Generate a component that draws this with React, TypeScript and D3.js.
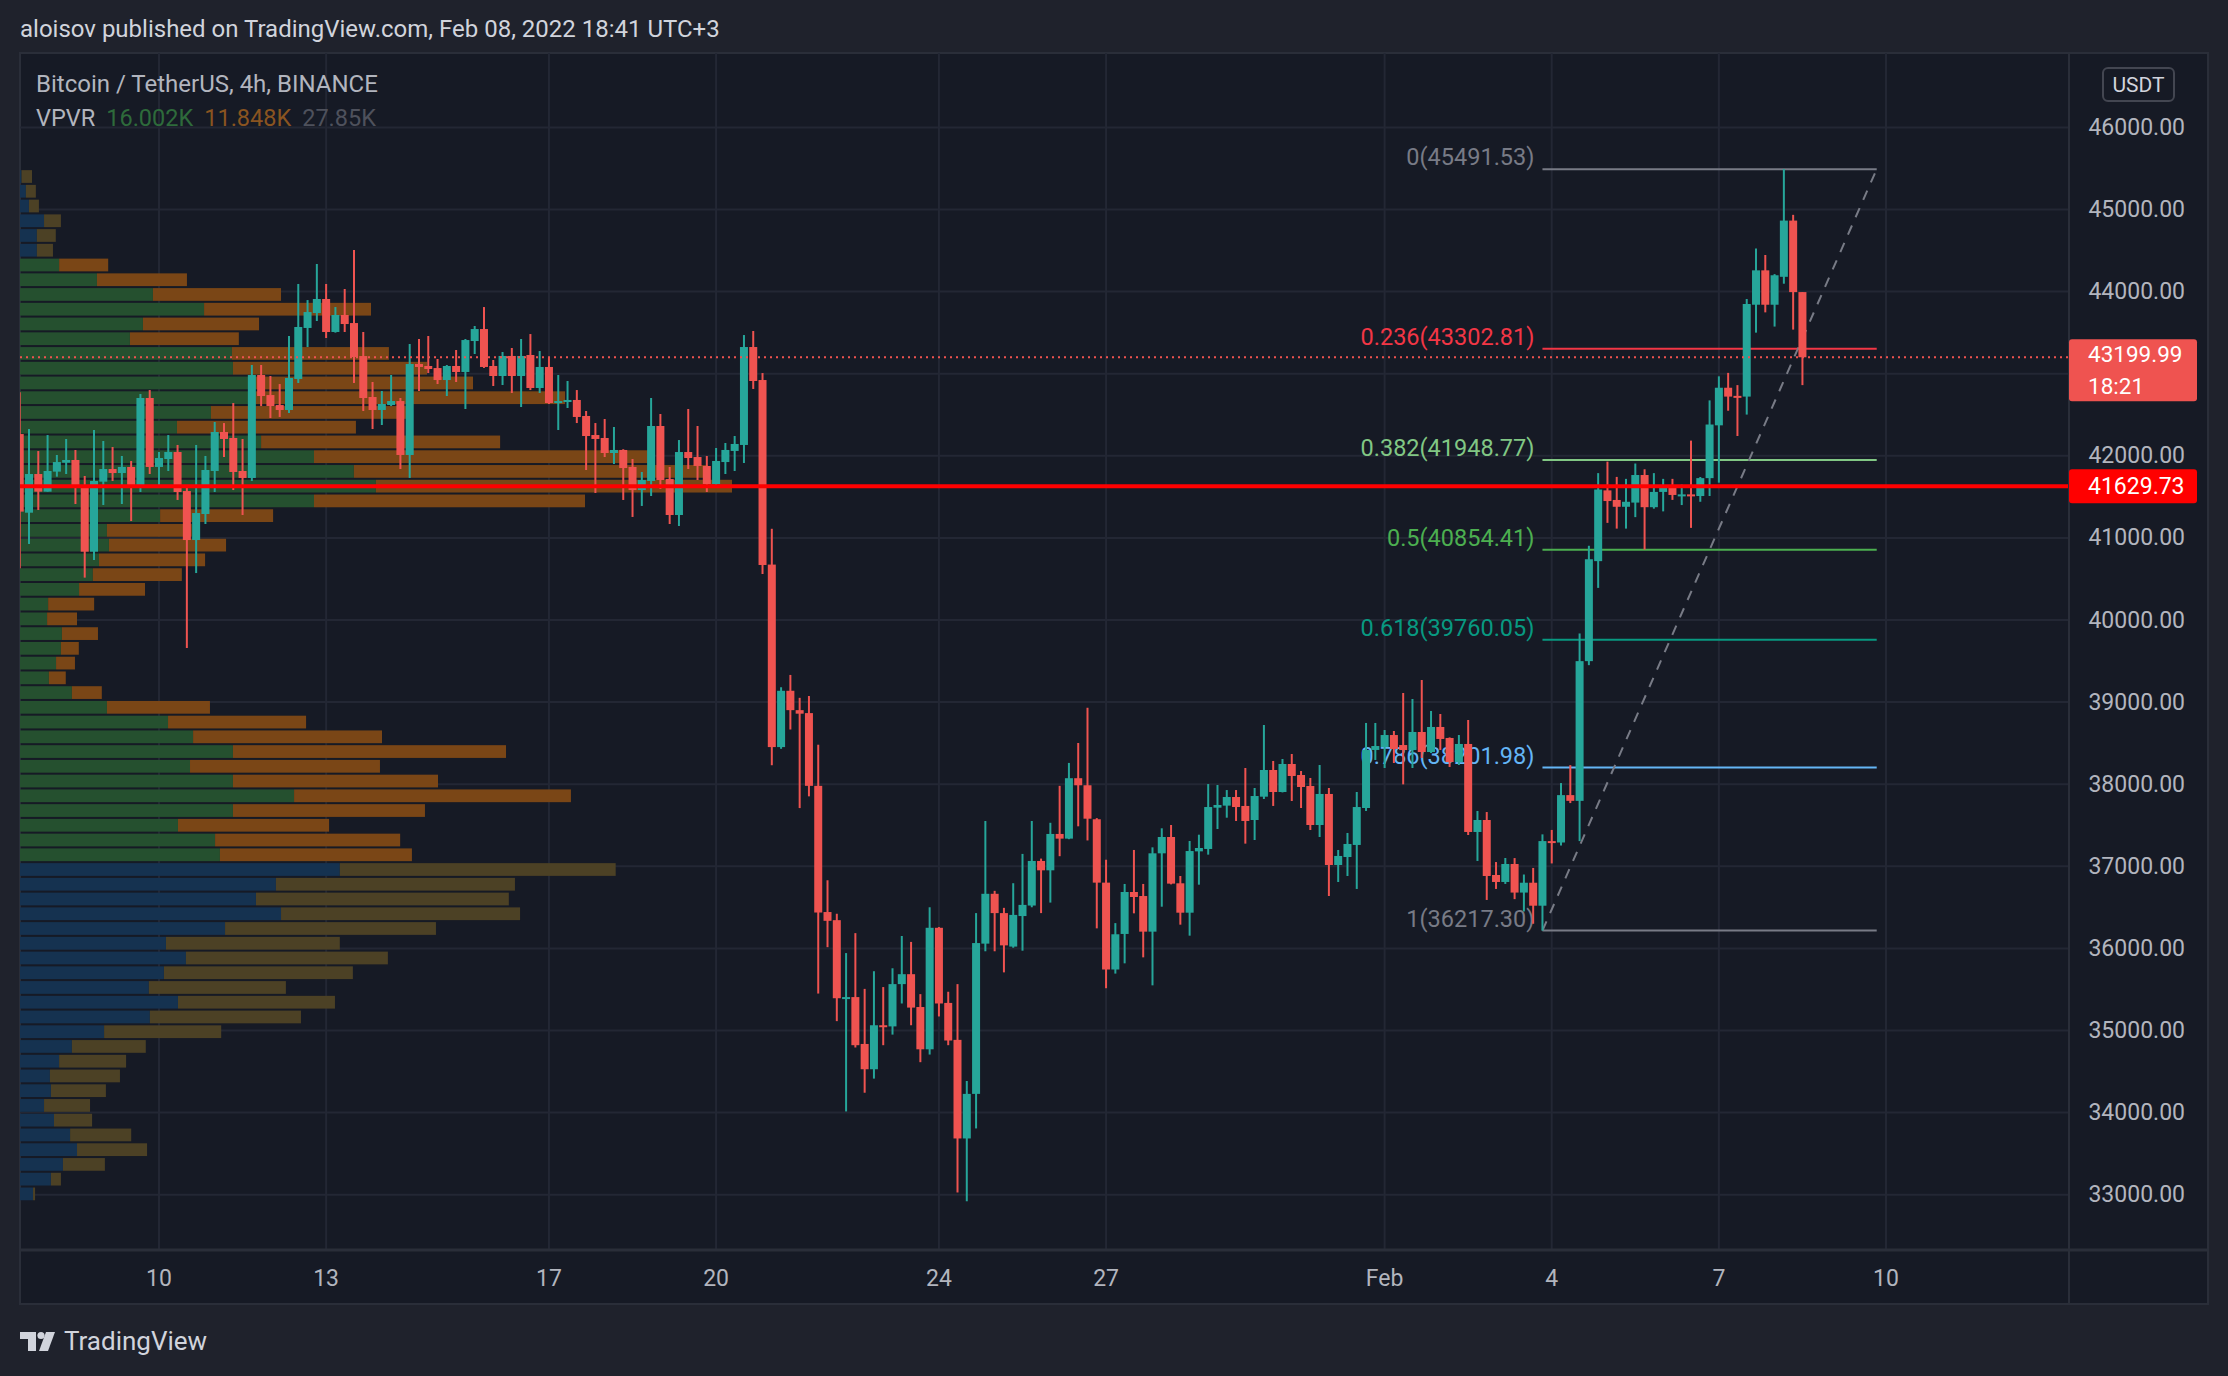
import React from "react";
import * as d3 from "d3";

const W = 2228;
const H = 1376;

// ---- Candles (BTC/USDT 4h, BINANCE), first bar Jan 7 15:00 (chart time) ----
const barOpen = [
  42265, 41307, 41778, 41563, 41807, 41916, 41949, 41620, 40832, 41685, 41839, 41790, 41864, 41620, 42704,
  41864, 41961, 42046, 41571, 40974, 41291, 41815, 42290, 42217, 41815, 41730, 42984, 42740, 42618, 42558,
  42936, 43557, 43739, 43910, 43508, 43715, 43617, 43215, 42716, 42558, 42619, 42667, 42010, 43118, 43094,
  43069, 42923, 43094, 43021, 43398, 43544, 43094, 42972, 43216, 42972, 43228, 42826, 43082, 42643, 42655,
  42680, 42485, 42253, 42217, 42034, 42071, 41864, 41583, 41693, 42363, 41717, 41279, 42046, 41985, 41876,
  41656, 41924, 42059, 42132, 43325, 42923, 40675, 38452, 39138, 38902, 38866, 37980, 36443, 36344, 35393,
  35407, 34836, 34528, 35064, 35050, 35565, 35686, 35286, 34771, 36251, 35336, 34886, 33685, 34228, 36058,
  36665, 36430, 36022, 36394, 36522, 37065, 36951, 37394, 37337, 38073, 37987, 37573, 36801, 35743, 36176,
  36687, 36638, 36204, 37158, 37357, 36793, 36435, 37182, 37211, 37714, 37739, 37844, 37735, 37564, 37848,
  38173, 37905, 38246, 38112, 37978, 37503, 37881, 37016, 37113, 37260, 37710, 38417, 38453, 38599, 38477,
  38416, 38636, 38392, 38697, 38563, 38270, 38490, 37418, 37564, 36894, 36809, 37028, 36680, 36800, 36520,
  37307, 37290, 37867, 37797, 39499, 40717, 41579, 41462, 41379, 41430, 41766, 41374, 41560, 41626, 41523,
  41530, 41510, 41728, 42371, 42829, 42730, 42721, 43840, 44259, 43840, 44180, 44865, 43994,
];
const barHigh = [
  42773, 42326, 42058, 42253, 42010, 42205, 42071, 41754, 42314, 42180, 42107, 41998, 41937, 42753, 42801,
  42046, 42253, 42132, 41620, 42132, 41998, 42412, 42399, 42643, 42205, 43106, 43106, 42972, 42874, 43459,
  44093, 43897, 44336, 44093, 43812, 44032, 44507, 43508, 42899, 42789, 42984, 42704, 43362, 43423, 43459,
  43179, 43106, 43289, 43423, 43581, 43812, 43167, 43264, 43313, 43423, 43483, 43276, 43191, 42984, 42911,
  42801, 42546, 42399, 42448, 42351, 42080, 41961, 41803, 42704, 42509, 41864, 42192, 42570, 42363, 41998,
  42095, 42156, 42241, 43471, 43520, 43008, 41111, 39181, 39331, 39052, 39074, 38481, 36830, 36422, 35943,
  36186, 35507, 35722, 35529, 35758, 36151, 36079, 35443, 36501, 36260, 35472, 35565, 34385, 36430, 37552,
  36701, 36494, 36794, 37151, 37552, 37094, 37530, 37980, 38259, 38502, 38931, 37587, 37080, 36308, 36785,
  37199, 36785, 37231, 37463, 37503, 36882, 37308, 37385, 38002, 37990, 37929, 37929, 38197, 37954, 38721,
  38283, 38307, 38368, 38161, 38076, 38234, 37954, 37199, 37406, 37905, 38746, 38746, 38660, 38648, 39111,
  39038, 39269, 38892, 38855, 38570, 38599, 38782, 37674, 37661, 37052, 37101, 37100, 36900, 36980, 37389,
  37443, 38014, 38232, 39836, 40904, 41789, 41929, 41743, 41719, 41906, 41836, 41789, 41719, 41719, 41650,
  42185, 41742, 42675, 42968, 43010, 42861, 43910, 44525, 44446, 44213, 45491.53, 44935, 43994,
];
const barLow = [
  40629, 40926, 41340, 41563, 41746, 41778, 41413, 40516, 40731, 41401, 41693, 41413, 41206, 41559, 41778,
  41608, 41815, 41462, 39659, 40572, 41169, 41559, 41985, 41583, 41279, 41693, 42606, 42460, 42473, 42521,
  42887, 43325, 43642, 43435, 43500, 43508, 42887, 42546, 42326, 42375, 42606, 41839, 41730, 42789, 43008,
  42874, 42728, 42899, 42570, 43240, 43070, 42850, 42862, 42765, 42594, 42801, 42765, 42631, 42314, 42582,
  42399, 41827, 41547, 41985, 41900, 41462, 41255, 41389, 41510, 41596, 41169, 41145, 41839, 41705, 41559,
  41644, 41778, 41815, 41912, 42814, 40560, 38231, 38431, 38666, 37709, 37852, 35450, 36015, 35114, 34014,
  34793, 34242, 34414, 34821, 34950, 35329, 35064, 34614, 34707, 35171, 34821, 33027, 32920, 33807, 35965,
  35965, 35708, 36008, 35972, 36501, 36430, 36558, 37123, 37330, 37487, 37315, 36244, 35515, 35693, 35818,
  36427, 35891, 35550, 36508, 36780, 36289, 36155, 36776, 37142, 37454, 37592, 37552, 37276, 37320, 37820,
  37735, 37900, 37795, 37710, 37442, 37357, 36638, 36809, 36882, 36724, 37674, 38295, 38197, 38258, 37998,
  38197, 38319, 38380, 38417, 38210, 38234, 37381, 37065, 36590, 36724, 36785, 36600, 36450, 36300, 36217.3,
  37035, 37253, 37770, 37307, 39450, 40391, 41183, 41113, 41113, 41253, 40857, 41356, 41323, 41463, 41400,
  41122, 41440, 41510, 41673, 42549, 42241, 42502, 43500, 43747, 43574, 44096, 43537, 42861,
];
const barClose = [
  41320, 41778, 41563, 41815, 41924, 41949, 41612, 40832, 41693, 41839, 41790, 41864, 41620, 42704, 41864,
  41973, 42046, 41559, 40974, 41303, 41827, 42290, 42205, 41803, 41730, 42984, 42728, 42606, 42558, 42948,
  43569, 43751, 43910, 43508, 43715, 43605, 43203, 42704, 42558, 42631, 42667, 42010, 43118, 43082, 43057,
  42923, 43094, 43021, 43410, 43544, 43082, 42972, 43216, 42972, 43216, 42826, 43082, 42643, 42667, 42680,
  42473, 42241, 42205, 42034, 42071, 41851, 41583, 41705, 42363, 41705, 41279, 42046, 41973, 41876, 41656,
  41937, 42071, 42144, 43325, 42911, 40670, 38452, 39138, 38902, 38859, 37980, 36437, 36336, 35393, 35407,
  34821, 34528, 35064, 35043, 35565, 35686, 35279, 34771, 36251, 35329, 34878, 33685, 34228, 36065, 36665,
  36430, 36037, 36408, 36530, 37065, 36951, 37394, 37337, 38073, 37987, 37580, 36801, 35743, 36172, 36687,
  36626, 36204, 37158, 37357, 36789, 36435, 37186, 37223, 37722, 37747, 37844, 37722, 37552, 37856, 38173,
  37905, 38246, 38100, 37966, 37503, 37881, 37016, 37126, 37272, 37722, 38417, 38465, 38599, 38429, 38416,
  38636, 38392, 38697, 38551, 38270, 38490, 37418, 37564, 36882, 36809, 37028, 36680, 36800, 36520, 37307,
  37290, 37867, 37797, 39499, 40740, 41589, 41449, 41379, 41440, 41766, 41374, 41560, 41626, 41523, 41530,
  41519, 41728, 42381, 42829, 42721, 42715, 43849, 44259, 43840, 44199, 44865, 43994, 43199.99,
];
const FIRST_BAR = Date.UTC(2022, 0, 7, 15);
const BAR_MS = 4 * 3600 * 1000;

// ---- Time axis ----
const tickDates = [
  Date.UTC(2022, 0, 10), Date.UTC(2022, 0, 13), Date.UTC(2022, 0, 17), Date.UTC(2022, 0, 20),
  Date.UTC(2022, 0, 24), Date.UTC(2022, 0, 27), Date.UTC(2022, 1, 1), Date.UTC(2022, 1, 4),
  Date.UTC(2022, 1, 7), Date.UTC(2022, 1, 10),
];
const tickLabels = ["10", "13", "17", "20", "24", "27", "Feb", "4", "7", "10"];

// ---- Price axis ----
const priceTicks = [33000, 34000, 35000, 36000, 37000, 38000, 39000, 40000, 41000, 42000, 43000, 44000, 45000, 46000];

// ---- VPVR (70 rows, top to bottom), volumes in K ----
const vpUp = [
  0.06, 0.23, 0.35, 0.94, 0.66, 0.66, 1.53, 3.01, 5.2, 7.2,
  4.81, 4.3, 8.29, 8.33, 9.0, 9.0, 7.47, 6.14, 9.43, 11.5,
  13.06, 13.92, 11.5, 5.48, 3.4, 3.48, 3.09, 2.85, 2.31, 1.1,
  1.06, 1.64, 1.6, 1.41, 1.13, 2.03, 3.4, 5.79, 6.77, 8.33,
  6.65, 8.33, 10.72, 8.33, 6.18, 7.63, 7.82, 12.51, 10.01, 9.23,
  10.21, 8.02, 5.71, 6.49, 5.63, 5.04, 6.18, 5.08, 3.29, 2.03,
  1.53, 1.17, 1.21, 0.94, 1.33, 1.96, 2.23, 1.68, 1.21, 0.51,
];
const vpDown = [
  0.41, 0.39, 0.39, 0.66, 0.74, 0.63, 1.92, 3.52, 5.01, 6.53,
  4.54, 4.26, 6.14, 7.59, 8.72, 12.32, 7.63, 7.0, 9.35, 13.22,
  13.84, 13.93, 10.6, 4.42, 3.32, 4.58, 4.15, 3.48, 2.58, 1.8,
  1.17, 1.41, 0.7, 0.74, 0.66, 1.17, 4.03, 5.4, 7.39, 10.68,
  7.43, 8.02, 10.83, 7.51, 5.91, 7.24, 7.51, 10.79, 9.35, 9.89,
  9.35, 8.25, 6.8, 7.9, 7.39, 5.36, 6.14, 5.91, 4.58, 2.89,
  2.62, 2.74, 2.15, 1.8, 1.49, 2.39, 2.74, 1.64, 0.39, 0.08,
];
const vaFirstRow = 6;
const vaLastRow = 46;
const vpvrLegend = ["16.002K", "11.848K", "27.85K"];

// ---- Fibonacci retracement ----
const fibRatios = ["0", "0.236", "0.382", "0.5", "0.618", "0.786", "1"];
const fibValues = [45491.53, 43302.81, 41948.77, 40854.41, 39760.05, 38201.98, 36217.3];
const fibColors = ["#787b86", "#f23645", "#81c784", "#4caf50", "#089981", "#64b5f6", "#787b86"];
const fibStartBar = 164; // index of Feb 3 23:00 bar
const fibEndBar = 200;

const pocPrice = 41629.73;
const lastPrice = 43199.99;
const countdown = "18:21";

// ---- Layout ----
const PANE_L = 20, PANE_T = 53, PLOT_R = 2069, PLOT_B = 1250, PANE_R = 2208, PANE_B = 1304;
const FONT = "Roboto, 'Noto Sans', sans-serif";

const UP = "#26a69a";
const DOWN = "#ef5350";

export default function App() {
  const xScale = d3.scaleUtc()
    .domain([Date.UTC(2022, 0, 10, 3), Date.UTC(2022, 1, 10, 3)])
    .range([159, 1886]);
  const yScale = d3.scaleLinear().domain([33000, 40000]).range([1194.7, 620]);
  const barX = (i: number) => xScale(FIRST_BAR + i * BAR_MS);

  const hi = d3.max(barHigh) as number;
  const lo = d3.min(barLow) as number;
  const rows = vpUp.length;
  const step = (hi - lo) / rows;
  const vpX = d3.scaleLinear().domain([0, d3.max(vpUp.map((u, k) => u + vpDown[k])) as number]).range([0, 712]);

  const gridColor = "#232734";
  const textColor = "#b2b5be";

  const candles = barOpen.map((o, i) => {
    const c = barClose[i];
    const up = c >= o;
    const x = barX(i);
    const y1 = yScale(Math.max(o, c));
    const y2 = yScale(Math.min(o, c));
    return (
      <g key={i}>
        <line x1={x} x2={x} y1={yScale(barHigh[i])} y2={yScale(barLow[i])} stroke={up ? UP : DOWN} strokeWidth={2} />
        <rect x={x - 4} y={y1} width={8} height={Math.max(2, y2 - y1)} fill={up ? UP : DOWN} />
      </g>
    );
  });

  const vpRows = vpUp.map((u, k) => {
    const top = yScale(hi - k * step);
    const bot = yScale(hi - (k + 1) * step);
    const inVA = k >= vaFirstRow && k <= vaLastRow;
    const wu = vpX(u);
    const wd = vpX(vpDown[k]);
    return (
      <g key={k}>
        <rect x={PANE_L} y={top + 1} width={wu} height={bot - top - 2} fill={inVA ? "#25502f" : "#153250"} />
        <rect x={PANE_L + wu} y={top + 1} width={wd} height={bot - top - 2} fill={inVA ? "#7a4616" : "#4c4125"} />
      </g>
    );
  });

  const fx1 = barX(fibStartBar);
  const fx2 = barX(fibEndBar);
  const yLast = yScale(lastPrice);
  const yPoc = yScale(pocPrice);
  // price-axis boxes hide the tick labels beneath them
  const lastBox = [yLast - 18, yLast + 44];
  const pocBox = [yPoc - 17, yPoc + 17];
  const hidden = (y: number) =>
    (y + 12 > lastBox[0] && y - 12 < lastBox[1]) || (y + 12 > pocBox[0] && y - 12 < pocBox[1]);

  return (
    <svg width={W} height={H} style={{ position: "absolute", left: 0, top: 0, display: "block" }} fontFamily={FONT}>
      <defs>
        <clipPath id="plot">
          <rect x={PANE_L} y={PANE_T} width={PLOT_R - PANE_L} height={PLOT_B - PANE_T} />
        </clipPath>
      </defs>
      <rect x={0} y={0} width={W} height={H} fill="#1f222c" />
      <text x={20} y={37} fontSize={24} fill="#d1d4dc">aloisov published on TradingView.com, Feb 08, 2022 18:41 UTC+3</text>

      <rect x={PANE_L} y={PANE_T} width={PANE_R - PANE_L} height={PANE_B - PANE_T} fill="#161a25" stroke="#2a2e39" strokeWidth={2} />

      {/* grid */}
      <g>
        {priceTicks.map((p) => (
          <line key={p} x1={PANE_L} x2={PLOT_R} y1={yScale(p)} y2={yScale(p)} stroke={gridColor} strokeWidth={2} />
        ))}
        {tickDates.map((d, i) => (
          <line key={i} x1={xScale(d + 3 * 3600e3)} x2={xScale(d + 3 * 3600e3)} y1={PANE_T} y2={PLOT_B} stroke={gridColor} strokeWidth={2} />
        ))}
      </g>

      <g clipPath="url(#plot)">
        {vpRows}
        {/* fib */}
        <g>
          {fibValues.map((v, k) => (
            <g key={k}>
              <line x1={fx1} x2={fx2} y1={yScale(v)} y2={yScale(v)} stroke={fibColors[k]} strokeWidth={2} />
              <text x={fx1 - 8} y={yScale(v) - 12} fontSize={23.5} fill={fibColors[k]} textAnchor="end" dominantBaseline="central">
                {`${fibRatios[k]}(${v.toFixed(2)})`}
              </text>
            </g>
          ))}
          <line x1={fx1} y1={yScale(fibValues[6])} x2={fx2} y2={yScale(fibValues[0])} stroke="#787b86" strokeWidth={2} strokeDasharray="10 9" />
        </g>
        {candles}
        <line x1={PANE_L} x2={PLOT_R} y1={yPoc} y2={yPoc} stroke="#ff0000" strokeWidth={4} />
        <line x1={PANE_L} x2={PLOT_R} y1={yLast} y2={yLast} stroke={DOWN} strokeWidth={2} strokeDasharray="2 4" />
      </g>

      {/* legend */}
      <text x={36} y={92} fontSize={24} fill={textColor}>Bitcoin / TetherUS, 4h, BINANCE</text>
      <text x={36} y={126} fontSize={23.5} fill={textColor}>
        VPVR
        <tspan dx={11} fill="#2e6b3b">{vpvrLegend[0]}</tspan>
        <tspan dx={11} fill="#8a5420">{vpvrLegend[1]}</tspan>
        <tspan dx={11} fill="#4e515c">{vpvrLegend[2]}</tspan>
      </text>

      {/* axes separators */}
      <line x1={PLOT_R} x2={PLOT_R} y1={PANE_T} y2={PANE_B} stroke="#2a2e39" strokeWidth={2} />
      <line x1={PANE_L} x2={PANE_R} y1={PLOT_B} y2={PLOT_B} stroke="#2a2e39" strokeWidth={3} />

      {/* price axis labels */}
      {priceTicks.filter((p) => !hidden(yScale(p))).map((p) => (
        <text key={p} x={2185} y={yScale(p)} fontSize={23} fill={textColor} textAnchor="end" dominantBaseline="central">
          {p.toFixed(2)}
        </text>
      ))}
      <rect x={2103} y={68} width={71} height={33} rx={5} fill="#161a25" stroke="#434651" strokeWidth={2} />
      <text x={2138.5} y={85} fontSize={21} fill="#d1d4dc" textAnchor="middle" dominantBaseline="central">USDT</text>

      {/* last price label */}
      <rect x={2069} y={lastBox[0]} width={128} height={lastBox[1] - lastBox[0]} rx={3} fill={DOWN} />
      <text x={2088} y={yLast - 3} fontSize={22.5} fill="#ffffff" dominantBaseline="central">{lastPrice.toFixed(2)}</text>
      <text x={2088} y={yLast + 29} fontSize={22.5} fill="#ffffff" dominantBaseline="central">{countdown}</text>

      {/* POC label */}
      <rect x={2069} y={pocBox[0]} width={128} height={pocBox[1] - pocBox[0]} rx={3} fill="#ff0000" />
      <text x={2088} y={yPoc} fontSize={23} fill="#ffffff" dominantBaseline="central">{pocPrice.toFixed(2)}</text>

      {/* time axis labels */}
      {tickDates.map((d, i) => (
        <text key={i} x={xScale(d + 3 * 3600e3)} y={1278} fontSize={23} fill={textColor} textAnchor="middle" dominantBaseline="central">
          {tickLabels[i]}
        </text>
      ))}

      {/* TradingView logo */}
      <g fill="#d1d4dc">
        <path d="M20,1332 H36 V1351 H28 V1339 H20 Z" />
        <circle cx={41} cy={1335.5} r={3.6} />
        <path d="M46,1332 H55 L48,1351 H39 Z" />
        <text x={64} y={1350} fontSize={26} fill="#d1d4dc">TradingView</text>
      </g>
    </svg>
  );
}
